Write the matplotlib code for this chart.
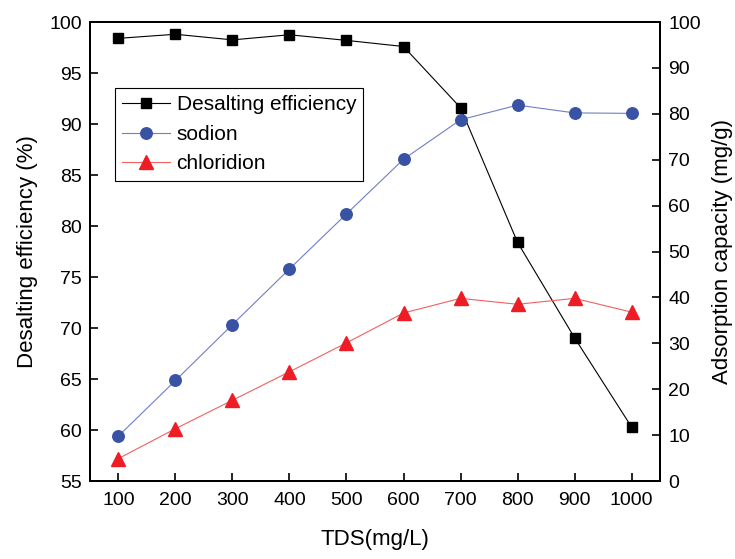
import matplotlib.pyplot as plt
import matplotlib as mpl
import numpy as np

mpl.rcParams['font.family'] = ['Liberation Sans', 'DejaVu Sans']

tds = [100, 200, 300, 400, 500, 600, 700, 800, 900, 1000]
desalting = [98.4, 98.8, 98.25, 98.75, 98.2, 97.6, 91.6, 78.4, 69.05, 60.3]
sodion = [9.8, 21.9, 34.1, 46.2, 58.2, 70.1, 78.7, 81.9, 80.2, 80.1]
chloridion = [4.9, 11.4, 17.6, 23.8, 30.1, 36.6, 39.8, 38.5, 39.8, 36.8]

fig = plt.figure(figsize=(7.35, 5.59), dpi=100)
ax = fig.add_axes([0.1224, 0.1395, 0.7756, 0.8211])
ax2 = ax.twinx()

l1, = ax.plot(tds, desalting, color='black', lw=0.8, marker='s', ms=7.5,
              mfc='black', mec='black', label='Desalting efficiency')
l2, = ax2.plot(tds, sodion, color='#6f7fc4', lw=0.8, marker='o', ms=8.3,
               mfc='#3953a4', mec='#3953a4', label='sodion')
l3, = ax2.plot(tds, chloridion, color='#f26060', lw=0.8, marker='^', ms=9.5,
               mfc='#ee1c24', mec='#ee1c24', label='chloridion')

ax.set_xlim(50, 1050)
ax.set_ylim(55, 100)
ax2.set_ylim(0, 100)
ax.set_xticks(tds)
ax.set_yticks(np.arange(55, 101, 5))
ax2.set_yticks(np.arange(0, 101, 10))

for a in (ax, ax2):
    a.tick_params(direction='in', length=6, width=1.2, labelsize=14)
    for s in a.spines.values():
        s.set_linewidth(1.4)
ax.tick_params(axis='x', pad=8)
ax.tick_params(axis='y', pad=6)
ax2.tick_params(axis='y', pad=6)

ax.set_xlabel('TDS(mg/L)', fontsize=16, labelpad=14)
ax.set_ylabel('Desalting efficiency (%)', fontsize=16, labelpad=8)
ax2.set_ylabel('Adsorption capacity (mg/g)', fontsize=16, labelpad=8)

leg = ax2.legend(handles=[l1, l2, l3], loc='upper left',
                 bbox_to_anchor=(0.044, 0.856), borderaxespad=0,
                 fontsize=15, fancybox=False, framealpha=1, edgecolor='black',
                 handlelength=2.3, handletextpad=0.3, labelspacing=0.5,
                 borderpad=0.35)
leg.get_frame().set_linewidth(0.8)

fig.savefig('out.png', dpi=100)
